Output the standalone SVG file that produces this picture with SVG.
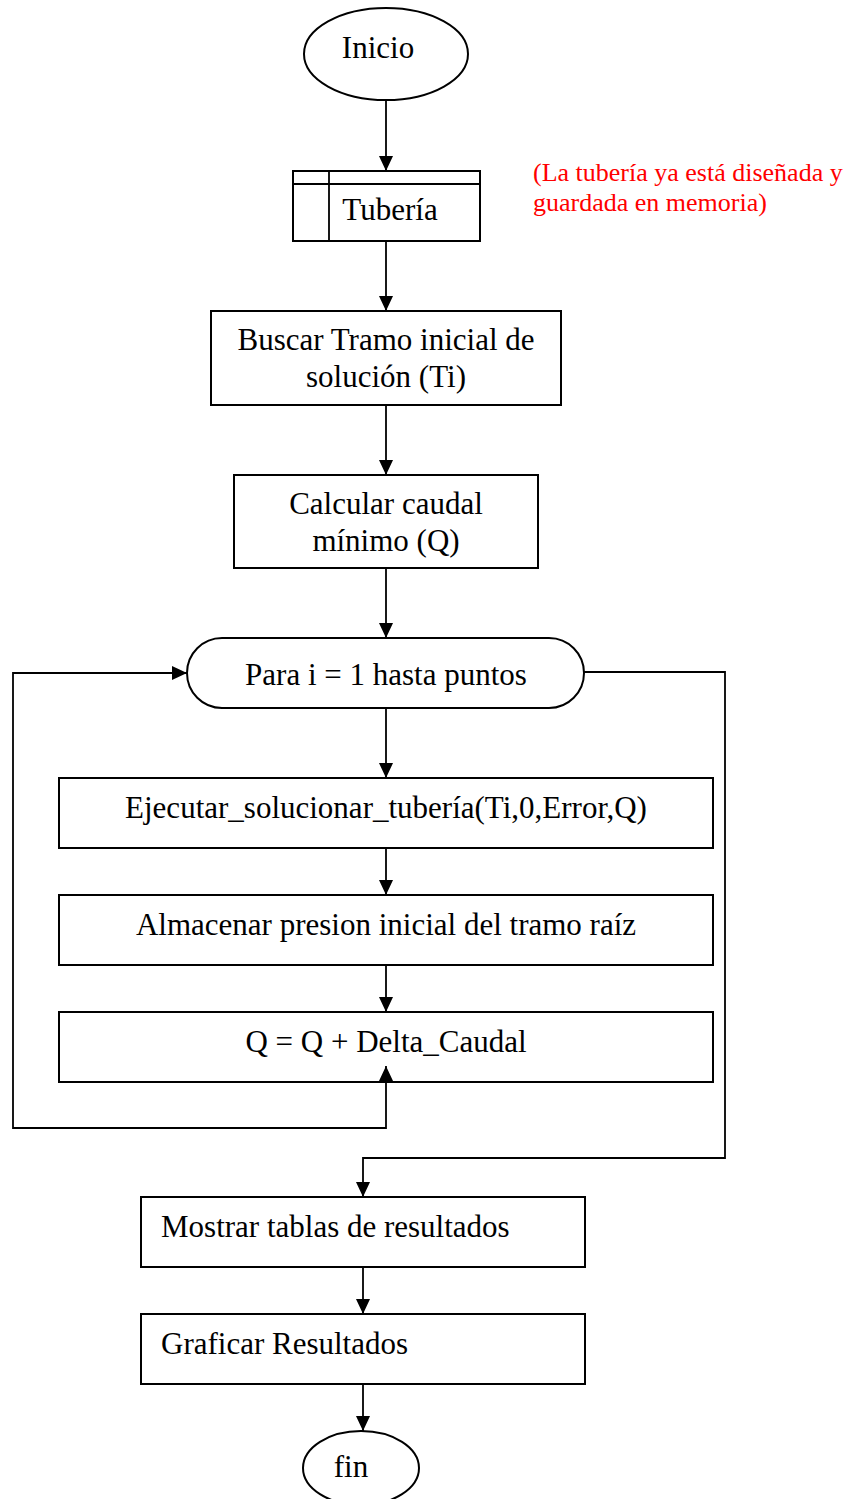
<svg xmlns="http://www.w3.org/2000/svg" width="848" height="1499" viewBox="0 0 848 1499">
  <style>
    .shape { fill: #fff; stroke: #000; stroke-width: 2; }
    .edge { fill: none; stroke: #000; stroke-width: 1.8; }
    .lbl { font-family: "Liberation Serif", "Times New Roman", serif; font-size: 31px; fill: #000; }
    .mid { text-anchor: middle; }
    .note { font-family: "Liberation Serif", "Times New Roman", serif; font-size: 26px; fill: #ff0000; }
  </style>
  <defs>
    <marker id="arrow" viewBox="0 0 15 14" refX="15" refY="7" markerWidth="15" markerHeight="14" markerUnits="userSpaceOnUse" orient="auto">
      <path d="M0,0 L15,7 L0,14 Z" fill="#000"/>
    </marker>
  </defs>

  <g id="inicio">
    <ellipse class="shape" cx="386" cy="54" rx="82" ry="46"/>
    <text class="lbl mid" x="378" y="58">Inicio</text>
  </g>

  <g id="tuberia">
    <rect class="shape" x="293" y="171" width="187" height="70"/>
    <path class="edge" stroke-width="2" d="M293,184 H480 M329,171 V241"/>
    <text class="lbl mid" x="390" y="220">Tubería</text>
  </g>

  <g id="nota">
    <text class="note" x="533" y="181">(La tubería ya está diseñada y</text>
    <text class="note" x="533" y="211">guardada en memoria)</text>
  </g>

  <g id="buscar-tramo">
    <rect class="shape" x="211" y="311" width="350" height="94"/>
    <text class="lbl mid" x="386" y="350">Buscar Tramo inicial de</text>
    <text class="lbl mid" x="386" y="387">solución (Ti)</text>
  </g>

  <g id="calcular-caudal">
    <rect class="shape" x="234" y="475" width="304" height="93"/>
    <text class="lbl mid" x="386" y="514">Calcular caudal</text>
    <text class="lbl mid" x="386" y="551">mínimo (Q)</text>
  </g>

  <g id="para">
    <rect class="shape" x="187" y="638" width="397" height="70" rx="35" ry="35"/>
    <text class="lbl mid" x="386" y="685">Para i = 1 hasta puntos</text>
  </g>

  <g id="ejecutar">
    <rect class="shape" x="59" y="778" width="654" height="70"/>
    <text class="lbl mid" x="386" y="818">Ejecutar_solucionar_tubería(Ti,0,Error,Q)</text>
  </g>

  <g id="almacenar">
    <rect class="shape" x="59" y="895" width="654" height="70"/>
    <text class="lbl mid" x="386" y="935">Almacenar presion inicial del tramo raíz</text>
  </g>

  <g id="incremento">
    <rect class="shape" x="59" y="1012" width="654" height="70"/>
    <text class="lbl mid" x="386" y="1052">Q = Q + Delta_Caudal</text>
  </g>

  <g id="mostrar">
    <rect class="shape" x="141" y="1197" width="444" height="70"/>
    <text class="lbl" x="161" y="1237">Mostrar tablas de resultados</text>
  </g>

  <g id="graficar">
    <rect class="shape" x="141" y="1314" width="444" height="70"/>
    <text class="lbl" x="161" y="1354">Graficar Resultados</text>
  </g>

  <g id="fin">
    <ellipse class="shape" cx="361" cy="1468" rx="58" ry="37"/>
    <text class="lbl mid" x="351" y="1477">fin</text>
  </g>

  <!-- connectors, drawn last so the loop-back arrowhead sits over the box -->
  <g id="connectors">
    <path class="edge" d="M386,101 V171" marker-end="url(#arrow)"/>
    <path class="edge" d="M386,241 V311" marker-end="url(#arrow)"/>
    <path class="edge" d="M386,405 V475" marker-end="url(#arrow)"/>
    <path class="edge" d="M386,568 V638" marker-end="url(#arrow)"/>
    <path class="edge" d="M386,708 V778" marker-end="url(#arrow)"/>
    <path class="edge" d="M386,848 V895" marker-end="url(#arrow)"/>
    <path class="edge" d="M386,965 V1012" marker-end="url(#arrow)"/>
    <!-- loop back to the for header -->
    <path class="edge" d="M386,1082 V1128 H13 V673 H187" marker-end="url(#arrow)"/>
    <path class="edge" d="M386,1083 V1066" marker-end="url(#arrow)"/>
    <!-- loop exit -->
    <path class="edge" d="M584,672 H725 V1158 H363 V1197" marker-end="url(#arrow)"/>
    <path class="edge" d="M363,1267 V1314" marker-end="url(#arrow)"/>
    <path class="edge" d="M363,1384 V1431" marker-end="url(#arrow)"/>
  </g>
</svg>
